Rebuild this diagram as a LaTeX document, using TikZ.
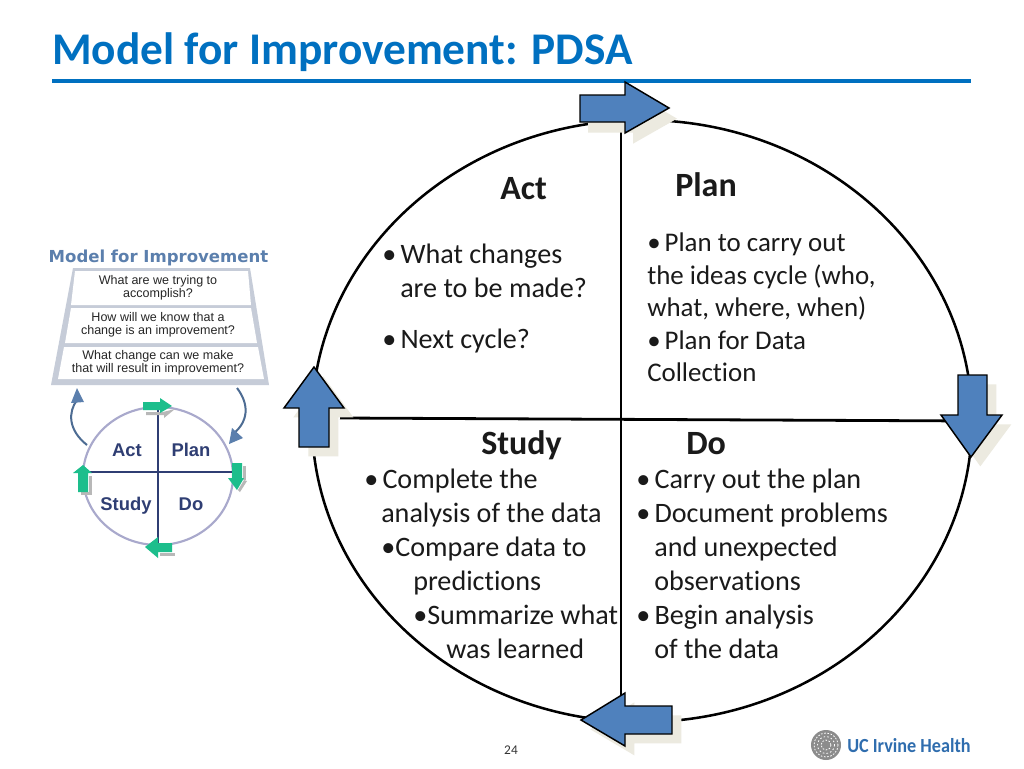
\documentclass[tikz,border=0pt]{standalone}
\usepackage{fontspec}
\setmainfont[Ligatures=NoCommon]{Carlito}
\newfontfamily\smallsans{Liberation Sans}
\newfontfamily\widesans{DejaVu Sans}
\definecolor{titleblue}{HTML}{0070C0}
\definecolor{arrowblue}{HTML}{4F81BD}
\definecolor{shadowc}{HTML}{ECEAE0}
\definecolor{bodyc}{HTML}{1A1A1A}
\definecolor{panelgrey}{HTML}{C6CCD8}
\definecolor{navy}{HTML}{2F3E73}
\definecolor{mfiblue}{HTML}{5B7FAD}
\definecolor{ringc}{HTML}{A9A9CC}
\definecolor{green1}{HTML}{1DBE8C}
\definecolor{logoblue}{HTML}{2F6DAE}
\def\arrowT{(580,95) -- (625,95) -- (625,82) -- (669,108) -- (625,133) -- (625,122) -- (580,122) -- cycle}
\def\arrowR{(958,375) -- (987,375) -- (987,415) -- (1002,415) -- (971,457) -- (941,415) -- (958,415) -- cycle}
\def\arrowL{(299,447) -- (329,447) -- (329,408) -- (344,408) -- (314,367) -- (284,408) -- (299,408) -- cycle}
\def\arrowB{(672,706) -- (625,706) -- (625,693) -- (581,720) -- (625,746) -- (625,734) -- (672,734) -- cycle}
\def\bu{•\hspace{-1.6pt} }
\tikzset{
  x=0.75pt,y=-0.75pt,
  body/.style={anchor=base west,inner sep=0pt,font=\fontsize{21.1}{24}\selectfont,text=bodyc},
  bodyp/.style={anchor=base west,inner sep=0pt,font=\fontsize{20.2}{24}\selectfont,text=bodyc},
  bodyb/.style={anchor=base west,inner sep=0pt,font=\fontsize{25.5}{29}\selectfont\bfseries,text=bodyc},
  bigarrow/.style={fill=arrowblue,draw=black,line width=1.1pt,line join=miter},
  arrowshadow/.style={fill=shadowc,draw=none},
  smalltxt/.style={anchor=center,inner sep=0pt,align=center,font=\smallsans\fontsize{9.4}{9.9}\selectfont,text=black!85},
  smallhead/.style={anchor=base,inner sep=0pt,font=\smallsans\bfseries\fontsize{13.8}{15}\selectfont,text=navy},
  panel/.style={fill=white,draw=none},
  greenarrow/.style={fill=green1,draw=none},
  greenshadow/.style={fill=black!28,draw=none},
  curved/.style={draw=mfiblue!85!black,line width=1.5pt},
  curvetip/.style={fill=mfiblue,draw=none}
}
\begin{document}
\begin{tikzpicture}
\useasboundingbox (0,0) rectangle (1024,768);
\fill[white] (0,0) rectangle (1024,768);
% title
\node[anchor=base west,inner sep=0pt,font=\fontsize{34}{40}\selectfont\bfseries,text=titleblue] (title) at (52,64) {Model for Improvement: PDSA};
\coordinate (ruleL) at (52,81);
\coordinate (ruleR) at (971,81);
\draw[titleblue,line width=2.4pt] (ruleL) -- (ruleR);
% main circle and axes
\coordinate (cc) at (642,421);
\draw[black,line width=1.9pt] (cc) ellipse [x radius=330,y radius=301];
\coordinate (vT) at (621,130);
\coordinate (vB) at (621,720);
\coordinate (hL) at (340,418);
\coordinate (hR) at (975,421);
\draw[black,line width=2.1pt] (vT) -- (vB);
\draw[black,line width=2.1pt] (hL) -- (hR);
% big arrows: shadows
\fill[arrowshadow,xshift=6pt,yshift=-8pt] \arrowT;
\fill[arrowshadow,xshift=7pt,yshift=-7pt] \arrowR;
\fill[arrowshadow,xshift=7pt,yshift=-7pt] \arrowL;
\fill[arrowshadow,xshift=7pt,yshift=-7pt] \arrowB;
% big arrows
\draw[bigarrow] \arrowT;
\draw[bigarrow] \arrowR;
\draw[bigarrow] \arrowL;
\draw[bigarrow] \arrowB;
% quadrant texts
\node[bodyb] (act) at (500,199) {Act};
\node[bodyb] (plan) at (675,196) {Plan};
\node[bodyb] (study) at (481,454) {Study};
\node[bodyb] (do) at (686,454) {Do};
\node[body] (a1) at (382,263) {\bu What changes};
\node[body] (a2) at (400,297) {are to be made?};
\node[body] (a3) at (382,348) {\bu Next cycle?};
\node[bodyp] (p1) at (647,251) {\bu Plan to carry out};
\node[bodyp] (p2) at (647,284) {the ideas cycle (who,};
\node[bodyp] (p3) at (647,316) {what, where, when)};
\node[bodyp] (p4) at (647,349) {\bu Plan for Data};
\node[bodyp] (p5) at (647,381) {Collection};
\node[body] (s1) at (364,488) {\bu Complete the};
\node[body] (s2) at (381,522) {analysis of the data};
\node[body] (s3) at (381,556) {•Compare data to};
\node[body] (s4) at (413,590) {predictions};
\node[body] (s5) at (413,624) {•Summarize what};
\node[body] (s6) at (446,658) {was learned};
\node[body] (d1) at (636,488) {\bu Carry out the plan};
\node[body] (d2) at (636,522) {\bu Document problems};
\node[body] (d3) at (654,556) {and unexpected};
\node[body] (d4) at (654,590) {observations};
\node[body] (d5) at (636,624) {\bu Begin analysis};
\node[body] (d6) at (654,658) {of the data};
% small model
\node[anchor=base,inner sep=0pt,font=\widesans\bfseries\fontsize{12.4}{15}\selectfont,text=mfiblue] (mfi) at (158.5,262) {Model for Improvement};
\fill[panelgrey] (73,268) -- (250,268) -- (269,385) -- (51,385) -- cycle;
\fill[panel] (75,271) -- (248,271) -- (251,305) -- (71,305) -- cycle;
\fill[panel] (71,308) -- (251,308) -- (257,343) -- (65,343) -- cycle;
\fill[panel] (64,347) -- (258,347) -- (264,379) -- (58,379) -- cycle;
\node[smalltxt] (q1) at (158,288) {What are we trying to\\accomplish?};
\node[smalltxt] (q2) at (158,325) {How will we know that a\\change is an improvement?};
\node[smalltxt] (q3) at (158,363) {What change can we make\\that will result in improvement?};
% small ring
\coordinate (rc) at (158,476);
\draw[ringc,line width=1.6pt] (rc) ellipse [x radius=75,y radius=69];
\coordinate (rvT) at (158,408);
\coordinate (rvB) at (158,545);
\coordinate (rhL) at (84,472);
\coordinate (rhR) at (233,472);
\draw[navy,line width=0.9pt] (rvT) -- (rvB);
\draw[navy,line width=0.9pt] (rhL) -- (rhR);
% curved arrows
\coordinate (cl1) at (87,445);
\coordinate (cl2) at (77,400);
\coordinate (cr1) at (237,388);
\coordinate (cr2) at (233,434);
\draw[curved] (cl1) .. controls (68,430) and (68,412) .. (cl2);
\fill[curvetip] (77,388) -- (84,402) -- (71,403) -- cycle;
\draw[curved] (cr1) .. controls (250,405) and (248,422) .. (cr2);
\fill[curvetip] (229,444) -- (232,428) -- (243,438) -- cycle;
% green arrows
\fill[greenshadow] (146,412) -- (163,412) -- (175,409) -- (164,418) -- (164,415) -- (146,415) -- cycle;
\fill[greenarrow] (143,402) -- (160,402) -- (160,398) -- (172,406) -- (160,413) -- (160,410) -- (143,410) -- cycle;
\fill[greenshadow] (243,466) rectangle (246,480);
\fill[greenshadow] (247,481) -- (240,492) -- (238,490) -- (244,480) -- cycle;
\fill[greenarrow] (232,463) -- (242,463) -- (242,478) -- (244,478) -- (237,490) -- (228,478) -- (232,478) -- cycle;
\fill[greenshadow] (89,476) rectangle (92,495);
\fill[greenshadow] (81,492) rectangle (92,495);
\fill[greenarrow] (78,492) -- (88,492) -- (88,473) -- (92,473) -- (83,465) -- (73,473) -- (78,473) -- cycle;
\fill[greenshadow] (160,553) rectangle (175,556);
\fill[greenarrow] (172,543) -- (158,543) -- (158,537) -- (145,547) -- (158,558) -- (158,552) -- (172,552) -- cycle;
\node[smallhead] (sa) at (127,456) {Act};
\node[smallhead] (sp) at (191,456) {Plan};
\node[smallhead] (ss) at (126,510) {Study};
\node[smallhead] (sd) at (191,510) {Do};
% footer
\node[anchor=base,inner sep=0pt,font=\fontsize{10}{12}\selectfont,text=black!80] (pg) at (511,754) {24};
\coordinate (seal) at (826,745);
\fill[black!45] (seal) circle [radius=15];
\draw[white,line width=0.6pt,dash pattern=on 1.2pt off 1.2pt] (seal) circle [radius=12];
\draw[white,line width=0.6pt,dash pattern=on 1.2pt off 1.6pt] (seal) circle [radius=8.5];
\draw[white,line width=0.6pt,dash pattern=on 1.2pt off 1.2pt] (seal) circle [radius=5];
\node[anchor=base west,inner sep=0pt,xscale=0.91,font=\fontsize{15}{18}\selectfont\bfseries,text=logoblue] (logo) at (847,752) {UC Irvine Health};
\end{tikzpicture}
\end{document}
